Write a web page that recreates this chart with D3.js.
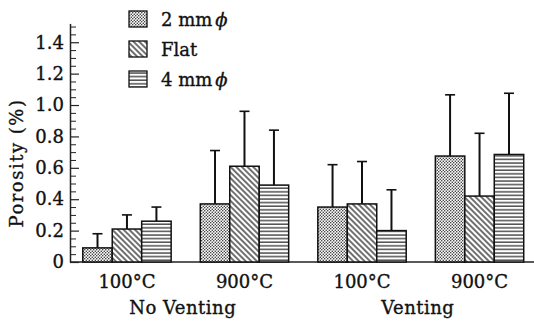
<!DOCTYPE html>
<html>
<head>
<meta charset="utf-8">
<script src="https://cdn.jsdelivr.net/npm/d3@7"></script>
<style>
  html, body { margin: 0; padding: 0; background: #fff; }
  svg { display: block; }
  text { font-family: "DejaVu Serif", "Liberation Serif", serif; fill: #111; stroke: #111; stroke-width: 0.35px; }
</style>
</head>
<body>
<svg id="chart" width="534" height="321"></svg>
<script>
// ---- data ----
const groups = ["NV100", "NV900", "V100", "V900"];
const groupLabels = ["100°C", "900°C", "100°C", "900°C"];
const superLabels = ["No Venting", "Venting"];
const series = ["2mm", "Flat", "4mm"];
const seriesLabels = ["2 mm", "Flat", "4 mm"];
const mean2mm  = [0.09, 0.37, 0.35, 0.675];
const meanFlat = [0.21, 0.61, 0.37, 0.42];
const mean4mm  = [0.26, 0.49, 0.20, 0.685];
const err2mm   = [0.09, 0.34, 0.27, 0.39];
const errFlat  = [0.09, 0.35, 0.27, 0.40];
const err4mm   = [0.09, 0.35, 0.26, 0.39];
const yMajorTicks = [0, 0.2, 0.4, 0.6, 0.8, 1.0, 1.2, 1.4];

const means = {"2mm": mean2mm, "Flat": meanFlat, "4mm": mean4mm};
const errs = {"2mm": err2mm, "Flat": errFlat, "4mm": err4mm};

const svg = d3.select("#chart");
const defs = svg.append("defs");

// patterns
const pDots = defs.append("pattern").attr("id", "p2mm")
  .attr("patternUnits", "userSpaceOnUse").attr("width", 3).attr("height", 3);
pDots.append("rect").attr("width", 3).attr("height", 3).attr("fill", "#fff");
pDots.append("circle").attr("cx", 0.75).attr("cy", 0.75).attr("r", 0.75).attr("fill", "#222");
pDots.append("circle").attr("cx", 2.25).attr("cy", 2.25).attr("r", 0.75).attr("fill", "#222");

const pDiag = defs.append("pattern").attr("id", "pFlat")
  .attr("patternUnits", "userSpaceOnUse").attr("width", 4).attr("height", 4)
  .attr("patternTransform", "rotate(-45)");
pDiag.append("rect").attr("width", 4).attr("height", 4).attr("fill", "#fff");
pDiag.append("line").attr("x1", 1).attr("y1", 0).attr("x2", 1).attr("y2", 4)
  .attr("stroke", "#111").attr("stroke-width", 1.2);

const pHor = defs.append("pattern").attr("id", "p4mm")
  .attr("patternUnits", "userSpaceOnUse").attr("width", 4).attr("height", 3.6);
pHor.append("rect").attr("width", 4).attr("height", 3.6).attr("fill", "#fff");
pHor.append("line").attr("x1", 0).attr("y1", 1).attr("x2", 4).attr("y2", 1)
  .attr("stroke", "#111").attr("stroke-width", 1.1);

const fillFor = {"2mm": "url(#p2mm)", "Flat": "url(#pFlat)", "4mm": "url(#p4mm)"};

// scales
const y = d3.scaleLinear().domain([0, 1.52]).range([262, 23.4]);
const x0 = d3.scaleBand().domain(groups).range([68.2, 538.3])
  .paddingInner(0.248).paddingOuter(0.124);
const x1 = d3.scaleBand().domain(series).range([0, x0.bandwidth()]).padding(0);

// y axis: minor ticks
const minorTicks = d3.range(0, 1.5001, 0.05).filter(v => Math.abs(Math.round(v * 5) - v * 5) > 1e-6);
svg.append("g").attr("transform", "translate(70,0)")
  .call(d3.axisLeft(y).tickValues(minorTicks).tickSizeInner(-6).tickSizeOuter(0).tickFormat(""))
  .call(g => g.selectAll("line").attr("stroke", "#222").attr("stroke-width", 1))
  .call(g => g.select(".domain").attr("stroke", "#222").attr("stroke-width", 1.5));

// y axis: major ticks + labels
svg.append("g").attr("transform", "translate(70,0)")
  .call(d3.axisLeft(y).tickValues(yMajorTicks).tickSizeInner(-9).tickSizeOuter(0).tickPadding(6)
    .tickFormat(d => d === 0 ? "0" : d3.format(".1f")(d)))
  .call(g => g.select(".domain").remove())
  .call(g => g.selectAll("line").attr("stroke", "#222").attr("stroke-width", 1.2))
  .call(g => g.selectAll("text").attr("font-family", "DejaVu Serif").attr("font-size", 18).attr("fill", "#111"));

// baseline
svg.append("line").attr("x1", 70).attr("x2", 534).attr("y1", y(0)).attr("y2", y(0))
  .attr("stroke", "#222").attr("stroke-width", 1.6);

// bars
const data = [];
groups.forEach((g, gi) => series.forEach(s => data.push({g, s, m: means[s][gi], e: errs[s][gi]})));

const gBars = svg.append("g");
gBars.selectAll("line.err").data(data).join("line").attr("class", "err")
  .attr("x1", d => x0(d.g) + x1(d.s) + x1.bandwidth() / 2)
  .attr("x2", d => x0(d.g) + x1(d.s) + x1.bandwidth() / 2)
  .attr("y1", d => y(d.m)).attr("y2", d => y(d.m + d.e))
  .attr("stroke", "#111").attr("stroke-width", 2);
gBars.selectAll("line.cap").data(data).join("line").attr("class", "cap")
  .attr("x1", d => x0(d.g) + x1(d.s) + x1.bandwidth() / 2 - 5)
  .attr("x2", d => x0(d.g) + x1(d.s) + x1.bandwidth() / 2 + 5)
  .attr("y1", d => y(d.m + d.e)).attr("y2", d => y(d.m + d.e))
  .attr("stroke", "#111").attr("stroke-width", 1.6);
gBars.selectAll("rect.bar").data(data).join("rect").attr("class", "bar")
  .attr("x", d => x0(d.g) + x1(d.s))
  .attr("width", x1.bandwidth())
  .attr("y", d => y(d.m))
  .attr("height", d => y(0) - y(d.m))
  .attr("fill", d => fillFor[d.s])
  .attr("stroke", "#111").attr("stroke-width", 1.5);

// group labels
svg.append("g").selectAll("text").data(groups).join("text")
  .attr("x", d => x0(d) + x0.bandwidth() / 2)
  .attr("y", 288)
  .attr("text-anchor", "middle")
  .attr("font-size", 18)
  .text((d, i) => groupLabels[i]);

// super labels
svg.append("g").selectAll("text").data(superLabels).join("text")
  .attr("x", (d, i) => {
    const a = x0(groups[i * 2]), b = x0(groups[i * 2 + 1]) + x0.bandwidth();
    return (a + b) / 2 - 3;
  })
  .attr("y", 314)
  .attr("text-anchor", "middle")
  .attr("font-size", 18)
  .attr("letter-spacing", 0.5)
  .text(d => d);

// y label
svg.append("text")
  .attr("transform", "translate(23,163) rotate(-90)")
  .attr("text-anchor", "middle")
  .attr("font-size", 18)
  .attr("letter-spacing", 1.5)
  .text("Porosity (%)");

// legend
const leg = svg.append("g");
series.forEach((s, i) => {
  const cy = 19 + i * 30;
  leg.append("rect").attr("x", 129).attr("y", cy - 8).attr("width", 18).attr("height", 16)
    .attr("fill", fillFor[s]).attr("stroke", "#111").attr("stroke-width", 1.3);
  const t = leg.append("text").attr("x", 161).attr("y", cy + 6.5).attr("font-size", 18);
  t.append("tspan").text(seriesLabels[i]);
  if (s !== "Flat") {
    t.append("tspan").attr("dx", 3).attr("font-style", "italic").text("ϕ");
  }
});
</script>
</body>
</html>
